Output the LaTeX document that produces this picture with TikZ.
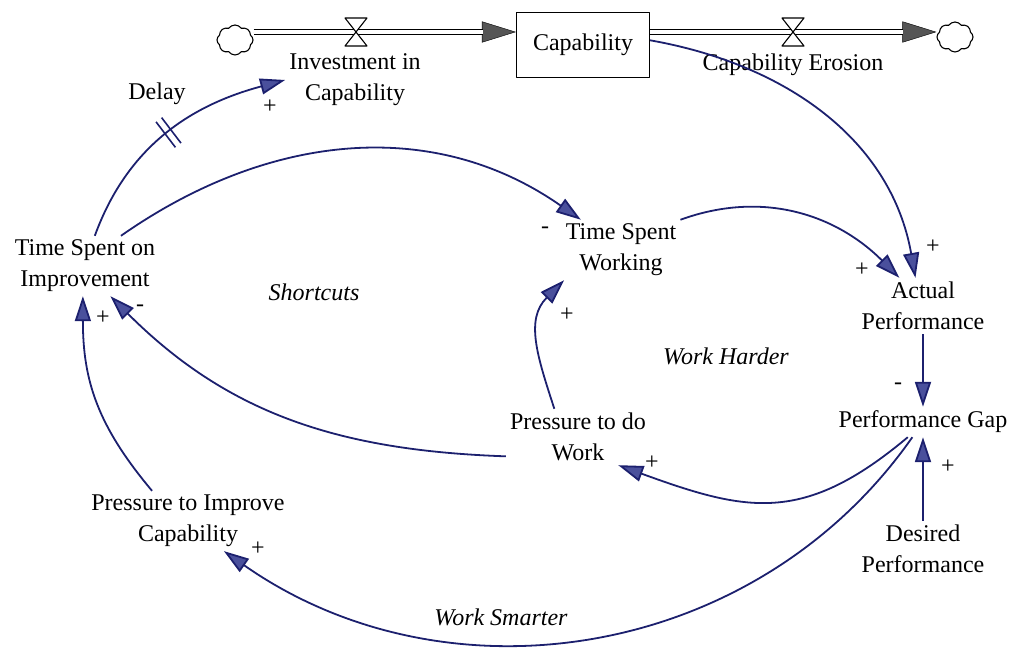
\documentclass[tikz,border=0pt]{standalone}
\usepackage{fontspec}
\setmainfont{Liberation Serif}
\usetikzlibrary{arrows.meta,shapes.symbols,decorations.markings}
\definecolor{linkblue}{RGB}{28,32,110}
\definecolor{headblue}{RGB}{74,80,156}
\definecolor{pipegray}{RGB}{85,85,85}
\begin{document}
\begin{tikzpicture}[x=1pt,y=1pt,font=\fontsize{24}{31}\selectfont,line join=round,
  var/.style={align=center,inner sep=4pt},
  loopname/.style={font=\fontsize{24}{31}\selectfont\itshape},
  link/.style={draw=linkblue,line width=1.8pt,-{Triangle[length=25pt,width=16pt,fill=headblue]}},
  pipe/.style={draw=black,double=white,line width=1.1pt,double distance=3.5pt},
  pipetip/.style={line width=0.4pt,-{Triangle[length=34pt,width=21pt,fill=pipegray]}},
  sink/.style={cloud,cloud puffs=8,cloud puff arc=110,draw,line width=1.1pt,minimum width=36pt,minimum height=30pt,inner sep=0pt},
  delaymark/.style={postaction={decorate},decoration={markings,mark=at position 0.5 with {\draw[-,linkblue,line width=1.6pt] (-3.5pt,-16pt)--(-3.5pt,16pt) (3.5pt,-16pt)--(3.5pt,16pt);}}}]
\useasboundingbox (0,0) rectangle (1015,652);
\node[draw,line width=1.1pt,minimum width=133pt,minimum height=65pt] (cap) at (583,607) {Capability};
\node[sink] (srcL) at (235,612) {};
\node[sink] (snkR) at (955,615) {};
\coordinate (vIn) at (356,620);
\coordinate (vOut) at (793,620);
\node[var] (invL) at (355,572) {Investment in\\Capability};
\node[var] (eroL) at (793,587) {Capability Erosion};
\node[var] (dlyL) at (157,558) {Delay};
\node[var] (tsi) at (85,386) {Time Spent on\\Improvement};
\node[var] (tsw) at (621,402) {Time Spent\\Working};
\node[var] (ap) at (923,346) {Actual\\Performance};
\node[var] (pg) at (923,230) {Performance Gap};
\node[var] (dp) at (923,103) {Desired\\Performance};
\node[var] (pw) at (578,215) {Pressure to do\\Work};
\node[var] (pic) at (188,131) {Pressure to Improve\\Capability};
\node[loopname] (shc) at (314,360) {Shortcuts};
\node[loopname] (wkh) at (726,296) {Work Harder};
\node[loopname] (wks) at (501,35) {Work Smarter};
\draw[pipetip] (srcL.east |- vIn) -- (cap.west |- vIn);
\draw[pipe,shorten >=33pt] (srcL.east |- vIn) -- (cap.west |- vIn);
\draw[pipetip] (cap.east |- vOut) -- (snkR.west |- vOut);
\draw[pipe,shorten >=33pt] (cap.east |- vOut) -- (snkR.west |- vOut);
\draw[line width=1.1pt,fill=white] (vIn) +(-11,14) -- +(11,14) -- +(-11,-14) -- +(11,-14) -- cycle;
\draw[line width=1.1pt,fill=white] (vOut) +(-11,14) -- +(11,14) -- +(-11,-14) -- +(11,-14) -- cycle;
\draw[link,delaymark] (tsi.72) to[out=70,in=195] (invL.west);
\draw[link] (tsi.40) to[out=35,in=145] (tsw.143);
\draw[link] (cap.4) to[out=-10,in=100] (ap.105);
\draw[link] (tsw.north east) to[out=20,in=135] (ap.130);
\draw[link] (ap) -- (pg);
\draw[link] (dp) -- (pg);
\draw[link] (pg.225) to[out=220,in=-20,looseness=1.2] (pw.-35);
\draw[link] (pg.235) to[out=235,in=-35] (pic.-40);
\draw[link] (pw.130) to[out=108,in=225,looseness=1.1] (tsw.208);
\draw[link] (pw.195) to[out=178,in=-45] (tsi.-50);
\draw[link] (pic.140) to[out=130,in=-90,looseness=1.05] (tsi.-94);
\foreach \x/\y/\s [count=\i] in {270/545/+, 545/422/-, 933/405/+, 862/382/+, 898/266/-, 948/185/+, 652/189/+, 258/103/+, 567/337/+, 140/344/-, 103/334/+}
  \node (sgn\i) at (\x,\y) {\s};
\end{tikzpicture}
\end{document}
